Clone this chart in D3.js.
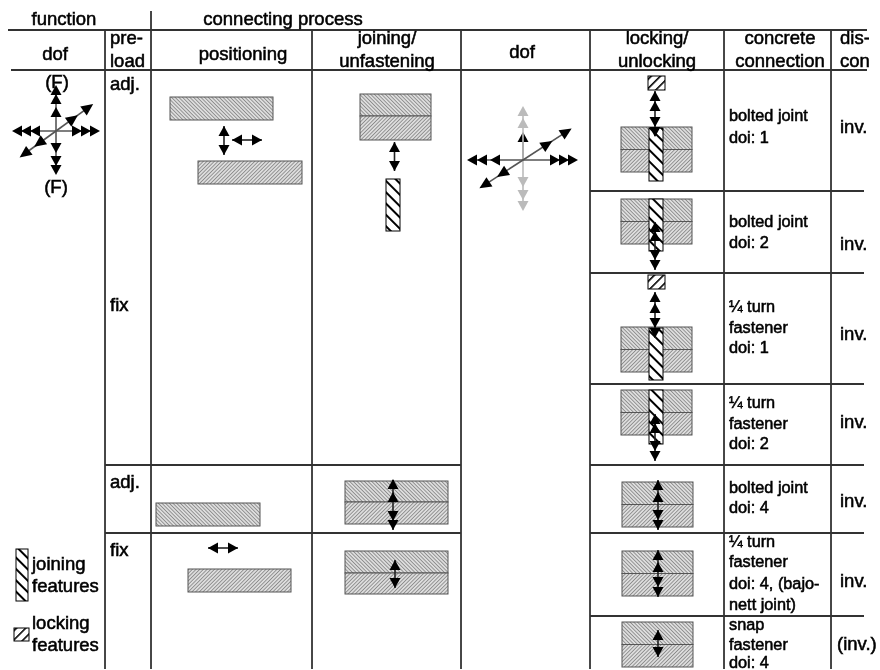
<!DOCTYPE html>
<html>
<head>
<meta charset="utf-8">
<script src="https://cdn.jsdelivr.net/npm/d3@7"></script>
<style>
  html, body { margin: 0; padding: 0; background: #fff; }
  svg { display: block; }
  text { font-family: "Liberation Sans", Arial, sans-serif; fill: #000; stroke: #000; stroke-width: 0.55; }
</style>
</head>
<body>
<script>
// table content
const topHeaders = ['function', 'connecting process'];
const subHeaders = [['dof'], ['pre-', 'load'], ['positioning'], ['joining/', 'unfastening'], ['dof'], ['locking/', 'unlocking'], ['concrete', 'connection'], ['dis-', 'con']];
const preloads = ['adj.', 'fix', 'adj.', 'fix'];
const connections = [
  ['bolted joint', 'doi: 1'],
  ['bolted joint', 'doi: 2'],
  ['¼ turn', 'fastener', 'doi: 1'],
  ['¼ turn', 'fastener', 'doi: 2'],
  ['bolted joint', 'doi: 4'],
  ['¼ turn', 'fastener', 'doi: 4, (bajo-', 'nett joint)'],
  ['snap', 'fastener', 'doi: 4']
];
const discon = ['inv.', 'inv.', 'inv.', 'inv.', 'inv.', 'inv.', '(inv.)'];
const legend = [['joining', 'features'], ['locking', 'features']];
const columns = ['dof', 'preload', 'positioning', 'joining', 'dof2', 'locking', 'concrete', 'discon'];
const rows = ['r1', 'r2', 'r3', 'r4', 'r5', 'r6', 'r7'];

const svg = d3.select('body').append('svg').attr('width', 880).attr('height', 670);
const defs = svg.append('defs');

// layout
const colLeft = d3.scaleOrdinal(columns, [11, 105, 151, 312, 461, 590, 724, 831]);
const rowTop = d3.scaleOrdinal(rows, [70, 191, 273, 384, 465, 533, 616]);
const headSize = 18.5;
const connSize = 16.3;

function hatch(id, angle, size, width, bg, fg) {
  const p = defs.append('pattern').attr('id', id)
    .attr('patternUnits', 'userSpaceOnUse')
    .attr('width', size).attr('height', size)
    .attr('patternTransform', `rotate(${angle})`);
  p.append('rect').attr('width', size).attr('height', size).attr('fill', bg);
  p.append('line').attr('x1', 0).attr('x2', 0).attr('y1', 0).attr('y2', size)
    .attr('stroke', fg).attr('stroke-width', width);
}
hatch('fineA', -45, 2.6, 1.2, '#ddd', '#666');
hatch('fineB', 45, 2.6, 1.2, '#ddd', '#666');
hatch('boltHatch', -45, 8, 4, '#fff', '#000');
hatch('lockHatch', 45, 6.5, 3.2, '#fff', '#000');

defs.append('clipPath').attr('id', 'page').append('rect')
  .attr('width', 869).attr('height', 669);
defs.append('clipPath').attr('id', 'pageWide').append('rect')
  .attr('width', 880).attr('height', 669);
defs.append('filter').attr('id', 'soft')
  .attr('filterUnits', 'userSpaceOnUse').attr('x', 0).attr('y', 0).attr('width', 880).attr('height', 670)
  .append('feGaussianBlur').attr('stdDeviation', 0.35);

const root = svg.append('g').attr('clip-path', 'url(#pageWide)').attr('filter', 'url(#soft)');
const lines = root.append('g').attr('stroke', '#333').attr('stroke-width', 1.8);

function hLine(x1, x2, y) { lines.append('line').attr('x1', x1).attr('x2', x2).attr('y1', y).attr('y2', y); }
function vLine(x, y1, y2) { lines.append('line').attr('x1', x).attr('x2', x).attr('y1', y1).attr('y2', y2); }

hLine(8, 867, 30);
hLine(11, 867, 70);
hLine(105, 461, rowTop('r5'));
hLine(105, 461, rowTop('r6'));
rows.slice(1).forEach(r => hLine(colLeft('locking'), 864, rowTop(r)));
vLine(colLeft('preload'), 30, 670);
vLine(colLeft('positioning'), 11, 670);
['joining', 'dof2', 'locking', 'concrete', 'discon'].forEach(c => vLine(colLeft(c), 30, 670));

function label(lines_, x, ys, size, anchor, parent) {
  lines_.forEach((t, i) => {
    (parent || root).append('text').attr('x', x).attr('y', ys[i])
      .attr('font-size', size).attr('text-anchor', anchor || 'start').text(t);
  });
}

// headers
label([topHeaders[0]], 64, [25], headSize, 'middle');
label([topHeaders[1]], 283, [25], headSize, 'middle');
label(subHeaders[0], 55, [60], headSize, 'middle');
label(subHeaders[1], 110, [44, 67], headSize);
label(subHeaders[2], 243, [60], headSize, 'middle');
label(subHeaders[3], 387, [44, 67], headSize, 'middle');
label(subHeaders[4], 522, [58], headSize, 'middle');
label(subHeaders[5], 657, [44, 67], headSize, 'middle');
label(subHeaders[6], 780, [44, 67], headSize, 'middle');
const clipped = root.append('g').attr('clip-path', 'url(#page)');
label(subHeaders[7], 840, [44, 67], headSize, 'start', clipped);

// preload column
label([preloads[0]], 110, [90], headSize);
label([preloads[1]], 110, [311], headSize);
label([preloads[2]], 110, [488], headSize);
label([preloads[3]], 110, [556], headSize);

// concrete connection text
const connBaselines = [
  [121, 143], [227, 248], [312, 333, 353], [408, 429, 449],
  [493, 513], [547, 567, 589, 610], [630, 650, 668]
];
connections.forEach((c, i) => label(c, 729, connBaselines[i], connSize));

// disconnection text
const disconBaselines = [133, 250, 340, 428, 507, 587, 650];
discon.forEach((d, i) => label([d], d.startsWith('(') ? 837 : 840, [disconBaselines[i]], headSize));

// hatched parts
function block(x, y, w, h, fill) {
  root.append('rect').attr('x', x).attr('y', y).attr('width', w).attr('height', h)
    .attr('fill', `url(#${fill})`).attr('stroke', '#555').attr('stroke-width', 1);
}
function doubleBlock(x, y) {
  block(x, y, 71, 22.5, 'fineA');
  block(x, y + 22.5, 71, 22.5, 'fineB');
}
function bar(x, y, w, h, fill) {
  root.append('rect').attr('x', x).attr('y', y).attr('width', w).attr('height', h)
    .attr('fill', `url(#${fill})`).attr('stroke', '#000').attr('stroke-width', 1);
}

function head(x, y, angle, len, hw, color) {
  // tip at x,y pointing along angle (degrees)
  root.append('path').attr('d', `M0,0L${-len},${-hw}L${-len},${hw}Z`)
    .attr('transform', `translate(${x},${y}) rotate(${angle})`).attr('fill', color || '#000');
}
function shaft(x1, y1, x2, y2, color, w) {
  root.append('line').attr('x1', x1).attr('y1', y1).attr('x2', x2).attr('y2', y2)
    .attr('stroke', color || '#222').attr('stroke-width', w || 1.6);
}
// vertical arrow, up/down lists are head tip positions
function vArrow(x, top, bottom, ups, downs) {
  shaft(x, top, x, bottom);
  ups.forEach(t => head(x, t, -90, 10, 5.5));
  downs.forEach(t => head(x, t, 90, 10, 5.5));
}
function hArrow(x1, x2, y) {
  shaft(x1, y, x2, y);
  head(x1, y, 180, 10, 5.5);
  head(x2, y, 0, 10, 5.5);
}

// dof star: each ray is angle, tip distances
function star(cx, cy, rays) {
  rays.forEach(r => {
    const a = r.a * Math.PI / 180;
    const far = d3.max(r.tips);
    shaft(cx, cy, cx + Math.cos(a) * (far - 5), cy + Math.sin(a) * (far - 5), r.c === '#bbb' ? '#bbb' : '#555');
    r.tips.forEach(d => head(cx + Math.cos(a) * d, cy + Math.sin(a) * d, r.a, r.len || 10, 5.5, r.c));
  });
}
star(56, 131, [
  { a: -90, tips: [24, 37, 46] },
  { a: 90, tips: [22, 35, 44] },
  { a: 180, tips: [26, 35, 44] },
  { a: 0, tips: [26, 35, 44] },
  { a: -36, tips: [27, 46], len: 12 },
  { a: 144, tips: [27, 45], len: 12 }
]);
star(523, 160, [
  { a: -90, tips: [28], c: '#000' },
  { a: -90, tips: [42, 54], c: '#bbb' },
  { a: 90, tips: [27, 40, 51], c: '#bbb' },
  { a: 180, tips: [33, 46, 56] },
  { a: 0, tips: [37, 46, 55] },
  { a: -33, tips: [35, 58], len: 12 },
  { a: 147, tips: [31, 52], len: 12 }
]);
label(['(F)'], 57, [88], headSize, 'middle');
label(['(F)'], 56, [193], headSize, 'middle');

// positioning
block(170, 97, 103, 23, 'fineA');
block(198, 161, 104, 23, 'fineB');
vArrow(224, 126, 155, [126], [155]);
hArrow(232, 262, 140);
block(156, 503, 104, 23, 'fineA');
block(188, 569, 103, 23, 'fineB');
hArrow(208, 238, 548);

// joining
block(360, 94, 71, 22, 'fineA');
block(360, 116, 71, 24, 'fineB');
vArrow(394.5, 142, 171, [142], [171]);
bar(386, 179, 14, 52, 'boltHatch');
block(345, 481, 103, 21, 'fineA');
block(345, 502, 103, 22, 'fineB');
vArrow(393, 480, 530, [479, 492], [521, 530]);
block(345, 551, 103, 22, 'fineA');
block(345, 573, 103, 21, 'fineB');
vArrow(395, 560, 588, [560], [588]);

// locking
doubleBlock(621, 127);
bar(649, 128, 14, 53, 'boltHatch');
bar(648, 76, 17, 14, 'lockHatch');
vArrow(655, 91, 136, [91, 101], [127, 137]);

doubleBlock(621, 199);
bar(649, 199, 14, 52, 'boltHatch');
vArrow(655, 222, 270, [222, 231], [260, 270]);

bar(648, 275, 17, 14, 'lockHatch');
doubleBlock(621, 327);
bar(649, 328, 14, 52, 'boltHatch');
vArrow(655, 292, 338, [292, 303], [328, 338]);

doubleBlock(621, 390);
bar(649, 390, 14, 54, 'boltHatch');
vArrow(655, 414, 461, [414, 423], [451, 461]);

doubleBlock(622, 482);
vArrow(658, 480, 530, [480, 492], [520, 530]);
doubleBlock(622, 551);
vArrow(658, 550, 597, [550, 562], [587, 597]);
doubleBlock(622, 622);
vArrow(658, 630, 657, [630], [657]);

// legend
bar(16, 549, 12, 52, 'boltHatch');
bar(14, 628, 15, 13, 'lockHatch');
label(legend[0], 32, [570, 592], headSize);
label(legend[1], 32, [629, 651], headSize);
</script>
</body>
</html>
